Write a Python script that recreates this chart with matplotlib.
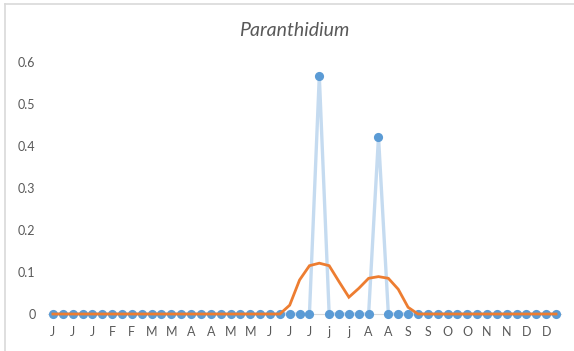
import numpy as np
import matplotlib
matplotlib.use("Agg")
import matplotlib.pyplot as plt
from matplotlib.lines import Line2D

# weekly month initials (52 weeks), Excel shows every other one
week_labels = ['J', 'J', 'J', 'J', 'J', 'F', 'F', 'F', 'F', 'M', 'M', 'M', 'M',
               'A', 'A', 'A', 'A', 'M', 'M', 'M', 'M', 'M', 'J', 'J', 'J', 'J',
               'J', 'j', 'j', 'j', 'j', 'A', 'A', 'A', 'A', 'S', 'S', 'S', 'S',
               'O', 'O', 'O', 'O', 'N', 'N', 'N', 'N', 'D', 'D', 'D', 'D', 'D']

# observed weekly values
observed = [0.0] * 52
observed[27] = 0.567
observed[33] = 0.422

# smoothed curve
smoothed = [0.0] * 52
smoothed[24:37] = [0.021, 0.081, 0.115, 0.121, 0.115, 0.077, 0.040,
                   0.061, 0.085, 0.089, 0.085, 0.059, 0.016]

W, H = 574, 351
fig = plt.figure(figsize=(W / 100, H / 100), dpi=100)
ax = fig.add_axes([48 / W, 1 - 314 / H, (561 - 48) / W, (314 - 62) / H])

x = np.arange(len(week_labels))
ax.plot(x, observed, color='#c5dbf0', lw=2.4, zorder=2, clip_on=False)
ax.plot(x, observed, ls='none', marker='o', ms=6.6, color='#5b9bd5',
        markeredgewidth=0, zorder=3, clip_on=False)
ax.plot(x, smoothed, color='#ed7d31', lw=2.0, zorder=4, clip_on=False,
        solid_joinstyle='miter')

ax.set_xlim(-0.5, 51.5)
ax.set_ylim(0, 0.6)
ax.set_yticks(np.arange(0, 0.61, 0.1))
ax.set_yticklabels(['0', '0.1', '0.2', '0.3', '0.4', '0.5', '0.6'])
ax.set_xticks(x[::2])
ax.set_xticklabels(week_labels[::2])

for s in ['top', 'right', 'left']:
    ax.spines[s].set_visible(False)
ax.spines['bottom'].set_color('#d9d9d9')
ax.spines['bottom'].set_linewidth(0.8)
ax.spines['bottom'].set_zorder(1)
ax.tick_params(axis='both', length=0, colors='#595959', labelsize=9)
ax.tick_params(axis='x', pad=9)
ax.tick_params(axis='y', pad=9)
for lab in ax.get_xticklabels() + ax.get_yticklabels():
    lab.set_fontfamily('Lato')

fig.text(294 / W, 1 - 30 / H, 'Paranthidium', ha='center', va='center',
         fontsize=14, style='italic', color='#595959', family='Lato')

# light chart frame at top and left
fig.add_artist(Line2D([5 / W, 1], [1 - 3.5 / H, 1 - 3.5 / H], color='#d9d9d9', lw=1.2))
fig.add_artist(Line2D([5 / W, 5 / W], [0, 1 - 3.5 / H], color='#d9d9d9', lw=1.2))

fig.savefig('out.png', dpi=100)
